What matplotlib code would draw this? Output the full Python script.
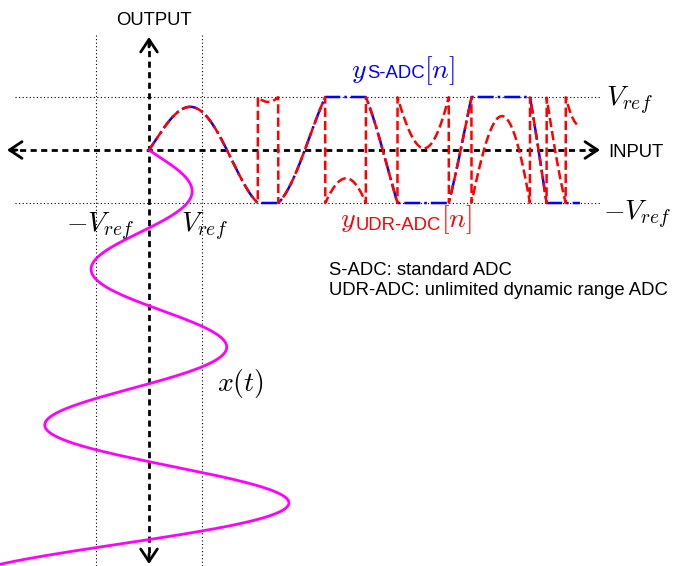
import numpy as np
import matplotlib.pyplot as plt

plt.rcParams["font.family"] = "Liberation Sans"
plt.rcParams["mathtext.fontset"] = "cm"

# input signal x(t) = AMP0 * exp(GROWTH * t) * sin(2*pi*t / PERIOD), in units of Vref
AMP0 = 0.70
GROWTH = 0.20
PERIOD = 2.94
T_END = 8.13
V_REF = 1.0

# figure is laid out in pixels; origin of the diagram and pixels per Vref
W, H = 677, 566
OX, OY = 149, 150
SCALE = 53.0


def X(px):
    return (px - OX) / SCALE


def Y(py):
    return (OY - py) / SCALE


t = np.linspace(0, T_END, 3000)
x = AMP0 * np.exp(GROWTH * t) * np.sin(2 * np.pi * t / PERIOD)
y_sadc = np.clip(x, -V_REF, V_REF)
y_udr = np.mod(x + V_REF, 2 * V_REF) - V_REF

fig = plt.figure(figsize=(W / 100, H / 100), dpi=100)
ax = fig.add_axes([0, 0, 1, 1])
ax.set_xlim(X(0), X(W))
ax.set_ylim(Y(H), Y(0))
ax.axis("off")

# reference levels
dot = dict(color="k", lw=0.8, linestyle=(0, (1, 2.2)))
for v in (V_REF, -V_REF):
    ax.plot([X(15), X(600)], [v, v], **dot)
    ax.plot([v, v], [Y(35), Y(H)], **dot)

# axes with arrows
dash = dict(color="k", lw=2, linestyle=(0, (2.2, 1.6)))
ax.plot([X(9), X(597)], [0, 0], **dash)
ax.plot([0, 0], [Y(40), Y(561)], **dash)
head = dict(arrowstyle="->,head_length=0.45,head_width=0.3", lw=2, color="k",
            mutation_scale=20, shrinkA=0, shrinkB=0)
ax.annotate("", xy=(X(600), 0), xytext=(X(590), 0), arrowprops=head)
ax.annotate("", xy=(X(7), 0), xytext=(X(17), 0), arrowprops=head)
ax.annotate("", xy=(0, Y(37)), xytext=(0, Y(47)), arrowprops=head)
ax.annotate("", xy=(0, Y(564)), xytext=(0, Y(554)), arrowprops=head)

# signals
ax.plot(x, -t, color="#ff00ff", lw=2)
ax.plot(t, y_sadc, color="#0000ff", lw=1.8, linestyle="-.")
ax.plot(t, y_udr, color="#ff0000", lw=1.8, linestyle="--")

# text
TXT = 13.3
MATH = 20
ax.text(X(153.5), Y(25), "OUTPUT", fontsize=TXT, ha="center", va="baseline")
ax.text(X(608), Y(157), "INPUT", fontsize=TXT, ha="left", va="baseline")
ax.text(X(606), Y(106), r"$V_{ref}$", fontsize=MATH, ha="left", va="baseline")
ax.text(X(603), Y(220), r"$-V_{ref}$", fontsize=MATH, ha="left", va="baseline")
ax.text(X(66), Y(232), r"$-V_{ref}$", fontsize=MATH, ha="left", va="baseline")
ax.text(X(181), Y(232), r"$V_{ref}$", fontsize=MATH, ha="left", va="baseline")
ax.text(X(217), Y(391), r"$x(t)$", fontsize=MATH, ha="left", va="baseline")
ax.text(X(329), Y(275), "S-ADC: standard ADC", fontsize=TXT, ha="left", va="baseline")
ax.text(X(329), Y(295), "UDR-ADC: unlimited dynamic range ADC", fontsize=TXT,
        ha="left", va="baseline")


def pieces(x_px, base_px, parts, color):
    renderer = fig.canvas.get_renderer()
    for s, size, dy in parts:
        tx = ax.text(X(x_px), Y(base_px + dy), s, fontsize=size, color=color,
                     ha="left", va="baseline")
        x_px += tx.get_window_extent(renderer).width


pieces(351, 78, [(r"$y$", MATH, 0), ("S-ADC", TXT, 0), (r"$[n]$", MATH, 0)], "#0000ff")
pieces(340, 227, [(r"$y$", MATH, 0), ("UDR-ADC", TXT, 3), (r"$[n]$", MATH, 0)], "#ff0000")

fig.savefig("out.png", dpi=100)
